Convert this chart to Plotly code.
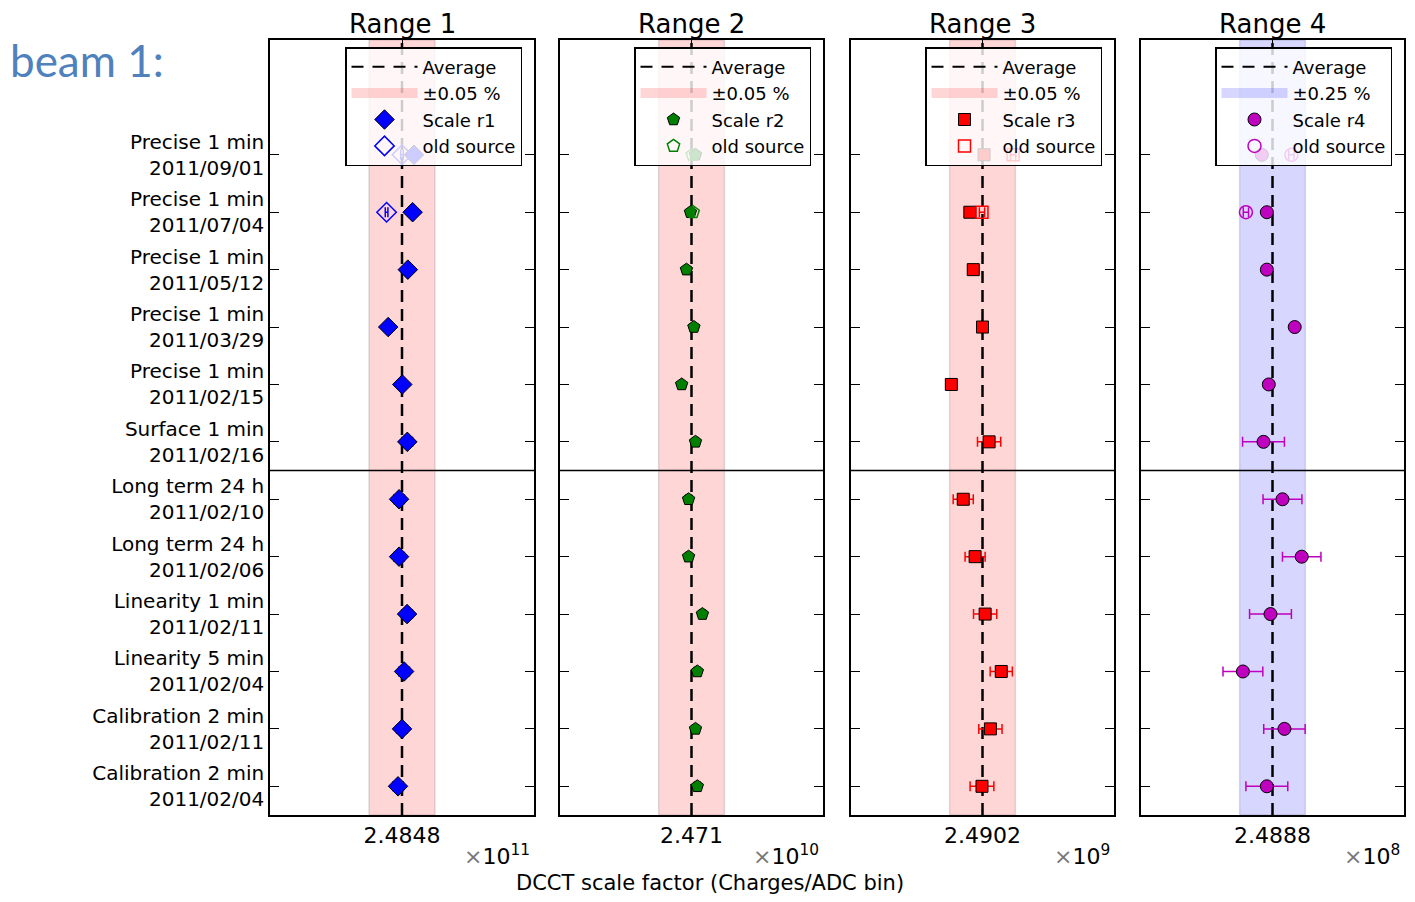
import plotly.graph_objects as go

# ---------------- data ----------------
categories = [
    "Precise 1 min<br>2011/09/01",
    "Precise 1 min<br>2011/07/04",
    "Precise 1 min<br>2011/05/12",
    "Precise 1 min<br>2011/03/29",
    "Precise 1 min<br>2011/02/15",
    "Surface 1 min<br>2011/02/16",
    "Long term 24 h<br>2011/02/10",
    "Long term 24 h<br>2011/02/06",
    "Linearity 1 min<br>2011/02/11",
    "Linearity 5 min<br>2011/02/04",
    "Calibration 2 min<br>2011/02/11",
    "Calibration 2 min<br>2011/02/04",
]
old_categories = ["Precise 1 min<br>2011/09/01", "Precise 1 min<br>2011/07/04"]

range_titles = ["Range 1", "Range 2", "Range 3", "Range 4"]
averages = [2.4848, 2.4710, 2.4902, 2.4888]          # in units of 10^exponent
avg_labels = ["2.4848", "2.471", "2.4902", "2.4888"]
exponents = [11, 10, 9, 8]
band_pct = [0.05, 0.05, 0.05, 0.25]
band_labels = ["±0.05 %", "±0.05 %", "±0.05 %", "±0.25 %"]
scale_names = ["Scale r1", "Scale r2", "Scale r3", "Scale r4"]

r1_values = [2.48525, 2.48520, 2.48502, 2.48428, 2.48481, 2.48500,
             2.48469, 2.48469, 2.48499, 2.48488, 2.48480, 2.48465]
r1_errors = [0.00004, 0.00004, 0.00004, 0.00004, 0.00004, 0.00020,
             0.00020, 0.00020, 0.00020, 0.00020, 0.00020, 0.00020]
r1_old_values = [2.48480, 2.48422]
r1_old_errors = [0.00005, 0.00005]

r2_values = [2.47115, 2.47096, 2.47081, 2.47109, 2.47063, 2.47115,
             2.47089, 2.47089, 2.47141, 2.47122, 2.47115, 2.47122]
r2_errors = [0.00003, 0.00003, 0.00003, 0.00003, 0.00003, 0.00011,
             0.00011, 0.00011, 0.00011, 0.00011, 0.00011, 0.00011]
r2_old_values = [2.47103, 2.47106]
r2_old_errors = [0.00005, 0.00005]

r3_values = [2.49026, 2.48972, 2.48985, 2.49020, 2.48902, 2.49045,
             2.48947, 2.48992, 2.49030, 2.49091, 2.49050, 2.49018]
r3_errors = [0.00005, 0.00005, 0.00005, 0.00005, 0.00005, 0.00044,
             0.00038, 0.00038, 0.00044, 0.00042, 0.00044, 0.00045]
r3_old_values = [2.49136, 2.49018]
r3_old_errors = [0.00010, 0.00010]

r4_values = [2.48678, 2.48773, 2.48773, 2.49300, 2.48810, 2.48710,
             2.49069, 2.49433, 2.48842, 2.48320, 2.49106, 2.48773]
r4_errors = [0.0005, 0.0005, 0.0005, 0.0005, 0.0005, 0.00396,
             0.00368, 0.00364, 0.00396, 0.00377, 0.00392, 0.00396]
r4_old_values = [2.49238, 2.48377]
r4_old_errors = [0.0005, 0.0005]

values = [r1_values, r2_values, r3_values, r4_values]
errors = [r1_errors, r2_errors, r3_errors, r4_errors]
old_values = [r1_old_values, r2_old_values, r3_old_values, r4_old_values]
old_errors = [r1_old_errors, r2_old_errors, r3_old_errors, r4_old_errors]

# ---------------- styles ----------------
colors = ["#0000FF", "#007F00", "#FF0000", "#BF00BF"]
symbols = ["diamond", "pentagon", "square", "circle"]
msizes = [15, 13, 12, 13]
band_fill = ["rgba(255,0,0,0.16)", "rgba(255,0,0,0.16)", "rgba(255,0,0,0.16)", "rgba(0,0,255,0.16)"]
xrange_factor = [4, 4, 4, 4]   # axis half-width in band half-widths

OFF = 8                       # page body margin
W, H = 1415 - 2 * OFF, 902 - 2 * OFF
panel_px = [(270, 534), (560, 823), (851, 1114), (1141, 1404)]   # page pixels
top_px, bot_px = 40, 815
FONT = "DejaVu Sans"


def fx(px):
    return (px - OFF) / W


def fy(py):
    return 1 - (py - OFF) / H


fig = go.Figure()
layout = dict(
    width=W, height=H,
    margin=dict(l=0, r=0, t=0, b=0),
    paper_bgcolor="white", plot_bgcolor="white",
    font=dict(family=FONT, color="black"),
    showlegend=True,
)
shapes = []
annotations = []

for i in range(4):
    sfx = "" if i == 0 else str(i + 1)
    xa, ya = "x" + sfx, "y" + sfx
    lg = "legend" + sfx
    avg = averages[i]
    half = avg * band_pct[i] / 100.0
    x0p, x1p = panel_px[i]

    layout["xaxis" + sfx] = dict(
        domain=[fx(x0p), fx(x1p)], anchor=ya,
        range=[avg - xrange_factor[i] * half, avg + xrange_factor[i] * half],
        tickvals=[avg], ticktext=[avg_labels[i]],
        ticks="inside", ticklen=9, tickwidth=1.3, tickcolor="black",
        showline=True, linecolor="black", linewidth=1.5, mirror="ticks",
        showgrid=False, zeroline=False,
        tickfont=dict(size=22, family=FONT),
    )
    layout["yaxis" + sfx] = dict(
        domain=[fy(bot_px), fy(top_px)], anchor=xa,
        type="category", categoryorder="array", categoryarray=categories,
        range=[11.5, -2], autorange=False,
        ticks="inside", ticklen=9, tickwidth=1.3, tickcolor="black",
        showline=True, linecolor="black", linewidth=1.5, mirror="ticks",
        showgrid=False, zeroline=False,
        showticklabels=(i == 0),
        tickfont=dict(size=20, family=FONT),
    )

    # band
    shapes.append(dict(type="rect", xref=xa, yref=ya + " domain",
                       x0=avg - half, x1=avg + half, y0=0, y1=1,
                       fillcolor=band_fill[i], line=dict(color="rgba(0,0,0,0.12)", width=1.5),
                       layer="below"))
    # average line
    shapes.append(dict(type="line", xref=xa, yref=ya + " domain",
                       x0=avg, x1=avg, y0=0, y1=1,
                       line=dict(color="black", width=2.5, dash="12px,7px"),
                       layer="below"))
    # separator
    shapes.append(dict(type="line", xref=xa + " domain", yref=ya,
                       x0=0, x1=1, y0=5.5, y1=5.5,
                       line=dict(color="black", width=1.5)))

    # legend dummies
    fig.add_trace(go.Scatter(x=[None], y=[None], xaxis=xa, yaxis=ya, mode="lines",
                             line=dict(color="black", width=2, dash="12px,9px"),
                             name="Average", legend=lg, legendrank=1))
    fig.add_trace(go.Scatter(x=[None], y=[None], xaxis=xa, yaxis=ya, mode="lines",
                             line=dict(color=band_fill[i], width=14),
                             name=band_labels[i], legend=lg, legendrank=2))

    fig.add_trace(go.Scatter(
        x=values[i], y=categories, xaxis=xa, yaxis=ya, mode="markers",
        marker=dict(symbol=symbols[i], size=msizes[i], color=colors[i],
                    line=dict(color="black", width=1)),
        error_x=dict(type="data", array=errors[i], color=colors[i], thickness=1.5, width=5),
        name=scale_names[i], legend=lg, legendrank=3))
    fig.add_trace(go.Scatter(
        x=old_values[i], y=old_categories, xaxis=xa, yaxis=ya, mode="markers",
        marker=dict(symbol=symbols[i] + "-open", size=msizes[i], color=colors[i],
                    line=dict(color=colors[i], width=1.5)),
        error_x=dict(type="data", array=old_errors[i], color=colors[i], thickness=1.5, width=5),
        name="old source", legend=lg, legendrank=4))

    layout[lg] = dict(
        x=fx(x1p - 12), y=fy(47), xanchor="right", yanchor="top",
        bgcolor="rgba(255,255,255,0.8)", bordercolor="black", borderwidth=1.5,
        font=dict(size=18, family=FONT), itemwidth=66, tracegroupgap=0,
    )

    annotations.append(dict(text=range_titles[i], xref="paper", yref="paper",
                            x=fx((x0p + x1p) / 2), y=fy(24),
                            xanchor="center", yanchor="middle", showarrow=False,
                            font=dict(size=26, family=FONT)))
    annotations.append(dict(text="<span style='color:#777'>×</span>10<sup>%d</sup>" % exponents[i],
                            xref="paper", yref="paper",
                            x=fx(x1p - 2), y=fy(855),
                            xanchor="right", yanchor="middle", showarrow=False,
                            font=dict(size=22, family=FONT)))

annotations.append(dict(text="DCCT scale factor (Charges/ADC bin)", xref="paper", yref="paper",
                        x=fx(710), y=fy(883), xanchor="center", yanchor="middle",
                        showarrow=False, font=dict(size=21, family=FONT)))
annotations.append(dict(text="beam 1:", xref="paper", yref="paper",
                        x=fx(8), y=fy(60), xanchor="left", yanchor="middle",
                        showarrow=False, font=dict(size=44, family="Lato", color="#4F81BD")))

layout["shapes"] = shapes
layout["annotations"] = annotations
fig.update_layout(**layout)
fig.write_html("out.html")
